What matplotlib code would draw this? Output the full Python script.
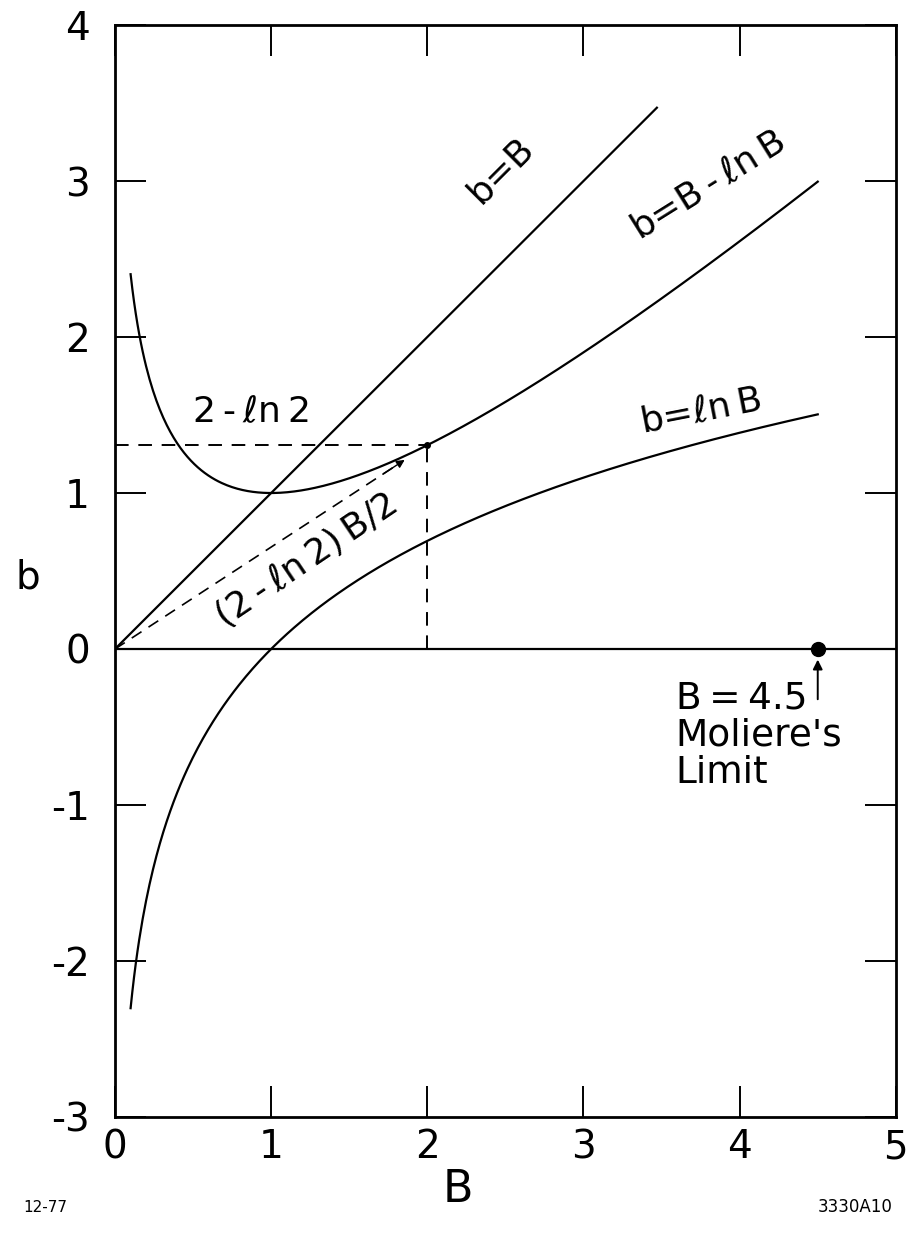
import numpy as np
import matplotlib
matplotlib.use("Agg")
import matplotlib.pyplot as plt

plt.rcParams['font.family'] = ['DejaVu Sans']
plt.rcParams['mathtext.fontset'] = 'dejavusans'
plt.rcParams['axes.unicode_minus'] = False

# data
B_start, B_end = 0.1, 4.5      # range of the curves b = B - ln B and b = ln B
B_line_end = 3.47              # where b = B stops
B_mark = 2.0                   # the point B = 2 on b = B - ln B
B_moliere = 4.5                # Moliere's limit
x_ticks = [0, 1, 2, 3, 4, 5]
y_ticks = [-3, -2, -1, 0, 1, 2, 3, 4]

B = np.linspace(B_start, B_end, 400)
b_mid = B - np.log(B)
b_low = np.log(B)
B_diag = np.linspace(0, B_line_end, 2)
c = 2 - np.log(2)

fig = plt.figure(figsize=(9.09, 12.33), dpi=100)
ax = fig.add_axes([0.1265, 0.0941, 0.859, 0.8856])

lw = 1.6
ax.plot(B_diag, B_diag, color='k', lw=lw)
ax.plot(B, b_mid, color='k', lw=lw)
ax.plot(B, b_low, color='k', lw=lw)
ax.axhline(0, color='k', lw=lw)

# dashed construction lines
dash = (0, (7, 5))
ax.plot([0, B_mark], [c, c], color='k', lw=1.4, linestyle=dash)
ax.plot([B_mark, B_mark], [0, c], color='k', lw=1.4, linestyle=dash)
ax.plot([0, 1.82], [0, c * 1.82 / 2], color='k', lw=1.2, linestyle=dash)
ax.annotate('', xy=(1.87, c * 1.87 / 2), xytext=(1.7, c * 1.7 / 2),
            arrowprops=dict(arrowstyle='-|>', color='k', lw=1.0, mutation_scale=12))
ax.plot([B_mark], [c], 'o', color='k', ms=4)

# Moliere's limit
ts = '\u2009'
ax.plot([B_moliere], [0], 'o', color='k', ms=10)
ax.annotate('', xy=(B_moliere, -0.05), xytext=(B_moliere, -0.34),
            arrowprops=dict(arrowstyle='-|>', color='k', lw=1.4, mutation_scale=14))
ax.text(3.59, -0.2, "B" + ts + "=" + ts + "4.5\nMoliere's\nLimit", fontsize=27,
        va='top', ha='left', linespacing=1.05)

# curve labels
fs = 26
ax.text(2.47, 3.07, 'b=B', fontsize=fs, rotation=45, ha='center', va='center',
        rotation_mode='anchor')
ax.text(3.8, 2.97, 'b=B' + ts + '-' + ts + r'$\ell$n' + ts + 'B', fontsize=fs,
        rotation=32, ha='center', va='center', rotation_mode='anchor')
ax.text(3.75, 1.52, 'b=' + r'$\ell$n' + ts + 'B', fontsize=fs, rotation=11,
        ha='center', va='center', rotation_mode='anchor')
ax.text(0.87, 1.52, '2' + ts + '-' + ts + r'$\ell$n' + ts + '2', fontsize=fs,
        ha='center', va='center')
ax.text(1.22, 0.57, '(2' + ts + '-' + ts + r'$\ell$n' + ts + '2)' + ts + 'B/2',
        fontsize=fs, rotation=34, ha='center', va='center', rotation_mode='anchor')

ax.set_xlim(0, 5)
ax.set_ylim(-3, 4)
ax.set_xticks(x_ticks)
ax.set_yticks(y_ticks)
ax.tick_params(direction='in', length=22, width=1.4, top=True, right=True,
               labelsize=28)
ax.tick_params(axis='x', pad=8)
ax.tick_params(axis='y', pad=18)
for s in ax.spines.values():
    s.set_linewidth(2)

fig.text(28 / 909, 1 - 578 / 1233, 'b', fontsize=28, ha='center', va='center')
fig.text(458 / 909, 1 - 1190 / 1233, 'B', fontsize=32, ha='center', va='center')
fig.text(45 / 909, 1 - 1207 / 1233, '12-77', fontsize=11, ha='center', va='center')
fig.text(855 / 909, 1 - 1207 / 1233, '3330A10', fontsize=12, ha='center', va='center')

fig.savefig('out.png', dpi=100)
